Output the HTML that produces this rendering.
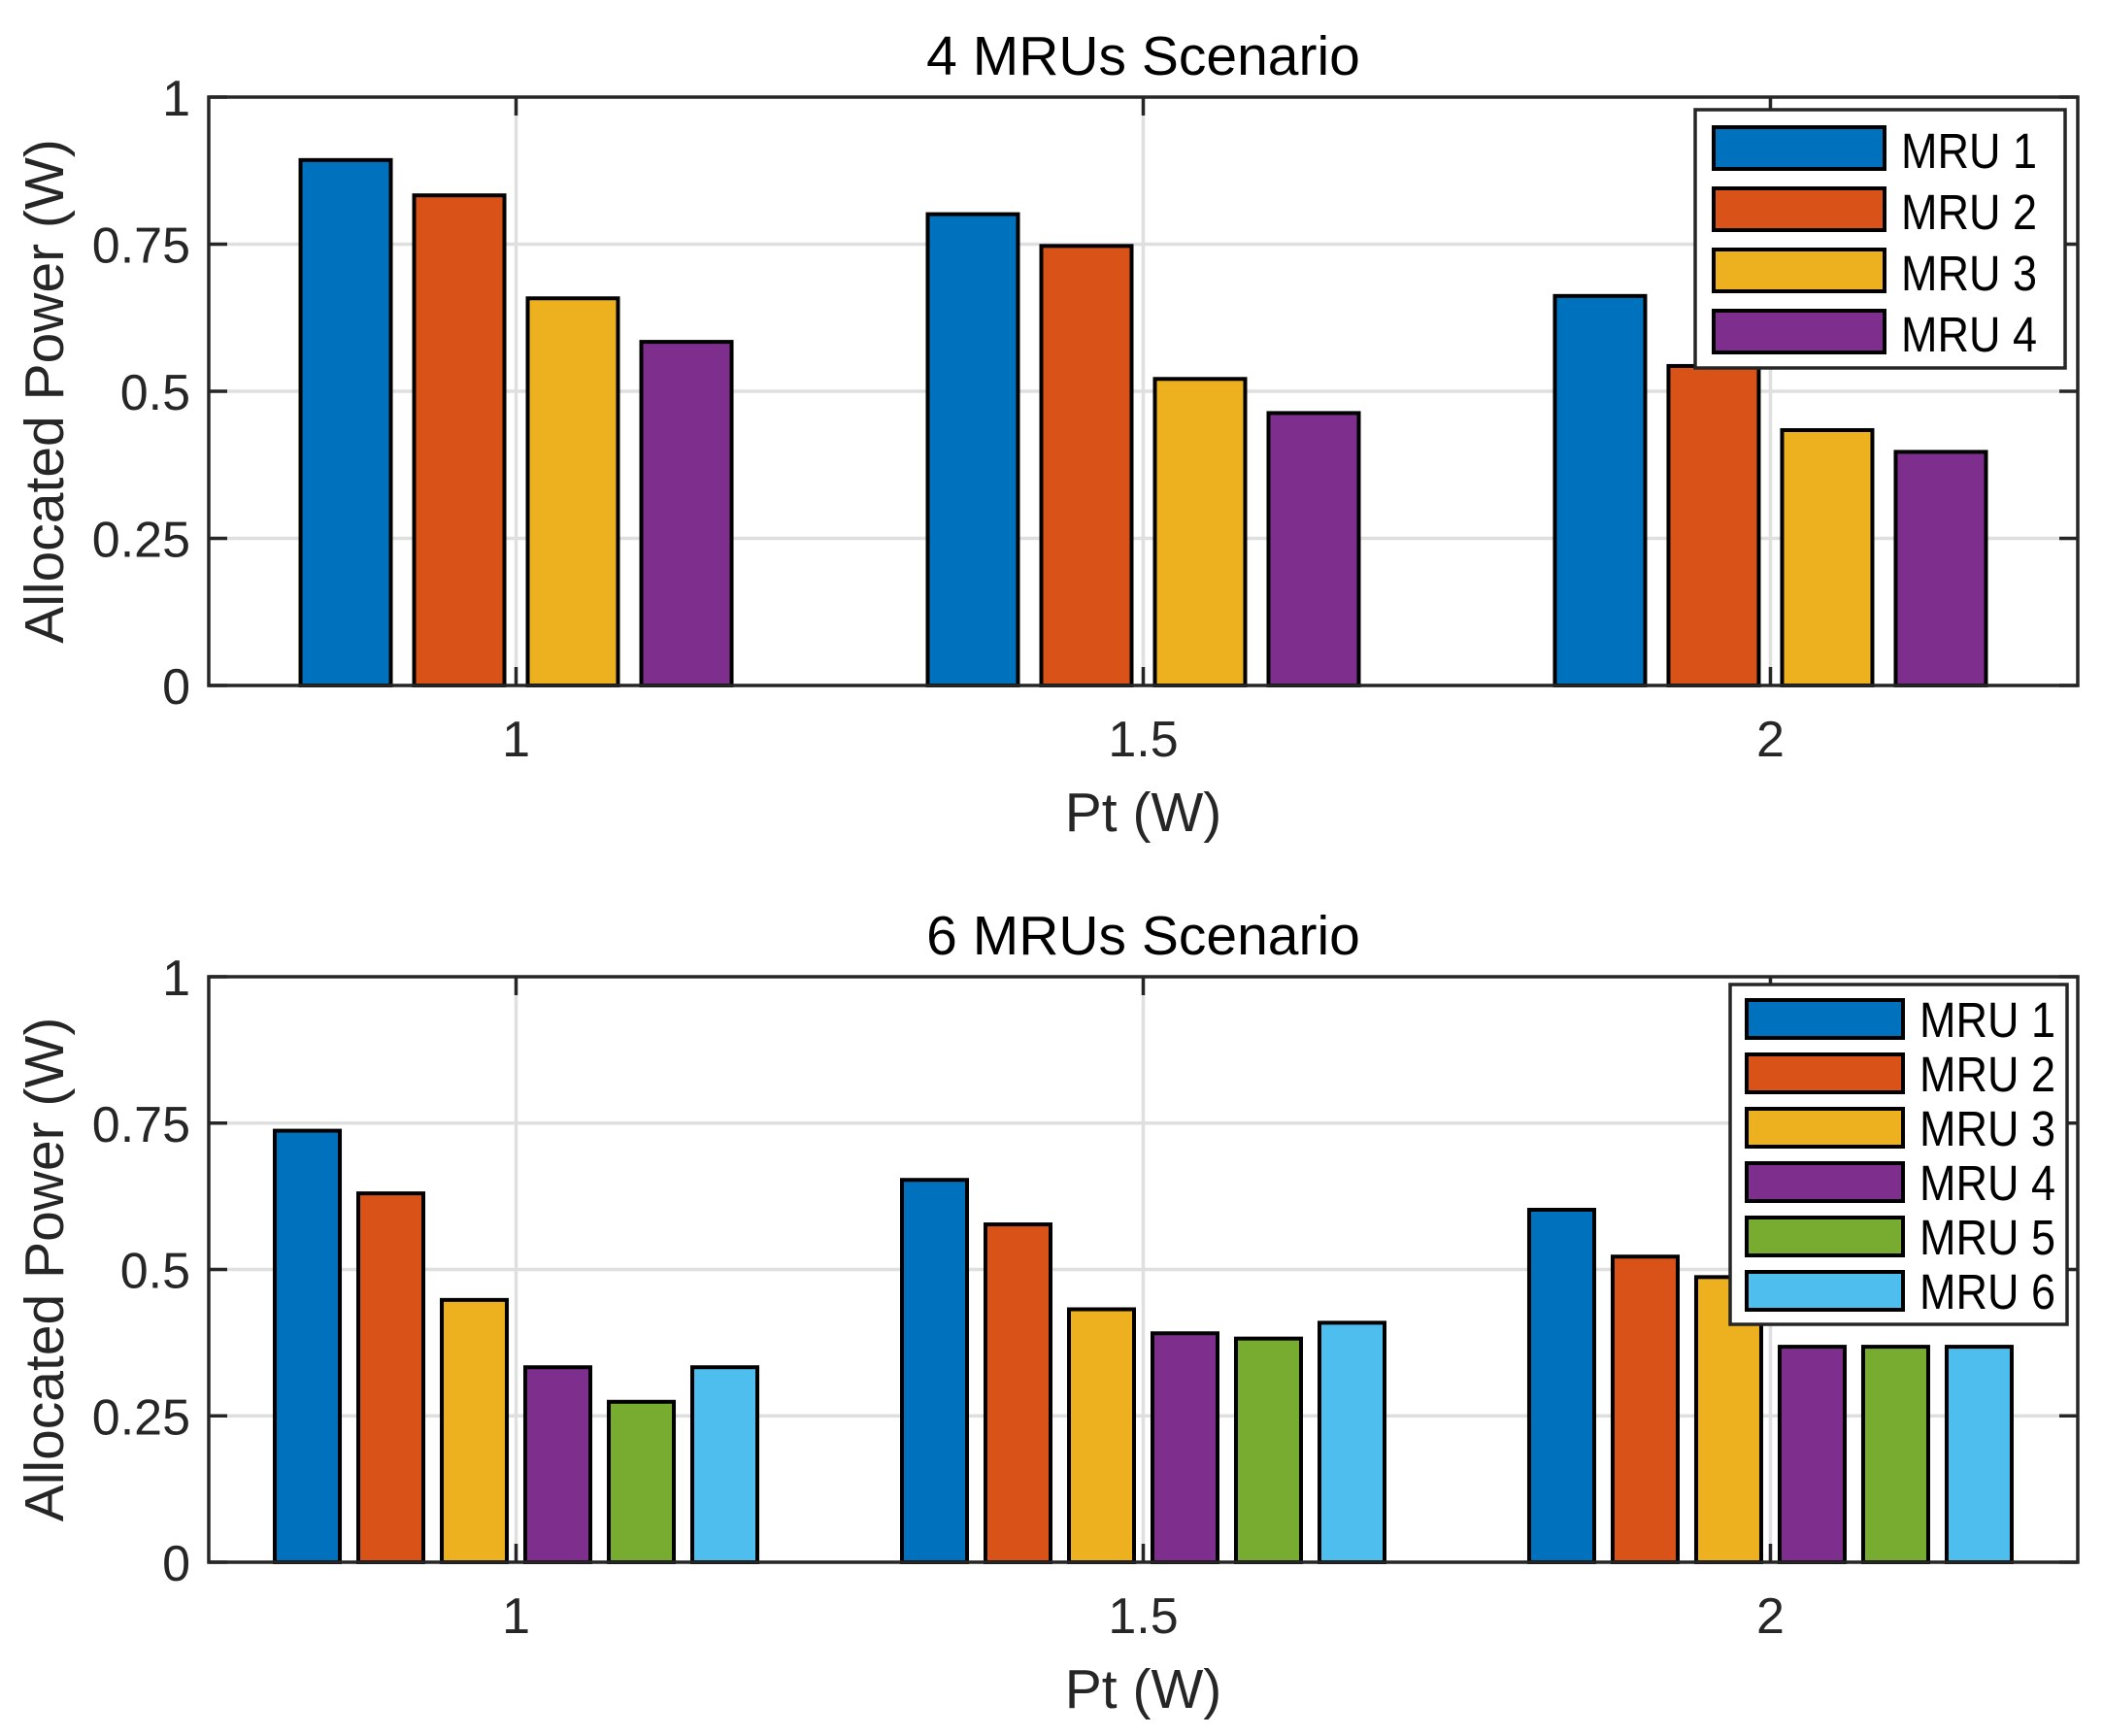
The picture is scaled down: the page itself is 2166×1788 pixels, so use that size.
<!DOCTYPE html>
<html><head><meta charset="utf-8">
<style>
html,body{margin:0;padding:0;background:#fff;}
svg{display:block;font-family:"Liberation Sans",Arial,sans-serif;}
</style></head>
<body>
<svg id="fig" width="2166" height="1788" viewBox="0 0 2166 1788" xmlns="http://www.w3.org/2000/svg"></svg>
<script>
const categories = [1, 1.5, 2];
const xTickLabels = ["1", "1.5", "2"];
const yTicks = [0, 0.25, 0.5, 0.75, 1];
const yTickLabels = ["0", "0.25", "0.5", "0.75", "1"];
const seriesNames4 = ["MRU 1", "MRU 2", "MRU 3", "MRU 4"];
const mru1Top = [0.893, 0.801, 0.662];
const mru2Top = [0.833, 0.747, 0.543];
const mru3Top = [0.658, 0.521, 0.434];
const mru4Top = [0.584, 0.463, 0.397];
const seriesNames6 = ["MRU 1", "MRU 2", "MRU 3", "MRU 4", "MRU 5", "MRU 6"];
const mru1Bot = [0.737, 0.653, 0.602];
const mru2Bot = [0.630, 0.577, 0.522];
const mru3Bot = [0.448, 0.432, 0.487];
const mru4Bot = [0.333, 0.391, 0.368];
const mru5Bot = [0.274, 0.382, 0.368];
const mru6Bot = [0.333, 0.409, 0.368];

const colors = ["#0072BD", "#D95319", "#EDB120", "#7E2F8E", "#77AC30", "#4DBEEE"];
const NS = "http://www.w3.org/2000/svg";
const svg = document.getElementById("fig");

function el(tag, attrs, parent) {
  const e = document.createElementNS(NS, tag);
  for (const k in attrs) e.setAttribute(k, attrs[k]);
  (parent || svg).appendChild(e);
  return e;
}

function drawPanel(cfg) {
  const g = el("g", {});
  
  
  const L = 215, R = 2140, T = cfg.top, B = cfg.bottom;
  const xmin = 0.755, xmax = 2.245;
  const xs = v => L + (v - xmin) / (xmax - xmin) * (R - L);
  const ys = v => B - v * (B - T);

  yTicks.forEach((t, i) => {
    if (t === 0 || t === 1) return;
    const gl = el("line", {x1: L, x2: R, y1: ys(t), y2: ys(t), stroke: "#dfdfdf", "stroke-width": 3.5}, g);
    
    
  });
  categories.forEach(c => {
    const gl = el("line", {x1: xs(c), x2: xs(c), y1: T, y2: B, stroke: "#dfdfdf", "stroke-width": 3.5}, g);
    
    
  });

  const n = cfg.series.length;
  const pitch = cfg.pitch, w = cfg.barWidth;
  cfg.series.forEach((vals, si) => {
    vals.forEach((v, ci) => {
      const cx = xs(categories[ci]) + (si - (n - 1) / 2) * pitch;
      const r = el("rect", {x: cx - w / 2, y: ys(v), width: w, height: ys(0) - ys(v),
        fill: colors[si], stroke: "#000", "stroke-width": 4}, g);
      
      
    });
  });

  const tl = 19;
  categories.forEach(c => {
    el("line", {x1: xs(c), x2: xs(c), y1: B, y2: B - tl, stroke: "#262626", "stroke-width": 3.5}, g);
    el("line", {x1: xs(c), x2: xs(c), y1: T, y2: T + tl, stroke: "#262626", "stroke-width": 3.5}, g);
  });
  yTicks.forEach(t => {
    el("line", {x1: L, x2: L + tl, y1: ys(t), y2: ys(t), stroke: "#262626", "stroke-width": 3.5}, g);
    el("line", {x1: R, x2: R - tl, y1: ys(t), y2: ys(t), stroke: "#262626", "stroke-width": 3.5}, g);
  });

  const box = el("rect", {x: L, y: T, width: R - L, height: B - T, fill: "none", stroke: "#262626", "stroke-width": 3.5}, g);
  
  

  categories.forEach((c, i) => {
    const t = el("text", {x: xs(c), y: B + 73, "font-size": 52, fill: "#262626", "text-anchor": "middle"}, g);
    t.textContent = xTickLabels[i];
    
    
  });
  yTicks.forEach((v, i) => {
    const t = el("text", {x: 196, y: ys(v) + 19, "font-size": 52, fill: "#262626", "text-anchor": "end"}, g);
    t.textContent = yTickLabels[i];
    
    
  });

  const ti = el("text", {x: (L + R) / 2, y: cfg.titleY, "font-size": 57, fill: "#000", "text-anchor": "middle"}, g);
  ti.textContent = cfg.title;
  
  
  const xl = el("text", {x: (L + R) / 2, y: B + 150, "font-size": 57, fill: "#262626", "text-anchor": "middle"}, g);
  xl.textContent = "Pt (W)";
  
  
  const ymid = (T + B) / 2;
  const yl = el("text", {x: 0, y: 0, "font-size": 57, fill: "#262626", "text-anchor": "middle",
    transform: "translate(65," + ymid + ") rotate(-90)"}, g);
  yl.textContent = "Allocated Power (W)";
  
  

  const lg = el("g", {}, g);
  
  
  const lb = cfg.legend;
  el("rect", {x: lb.x1, y: lb.y1, width: lb.x2 - lb.x1, height: lb.y2 - lb.y1, fill: "#fff", stroke: "#262626", "stroke-width": 3.5}, lg);
  cfg.names.forEach((nm, i) => {
    const ent = el("g", {}, lg);
    
    
    const y0 = lb.rowY + i * lb.pitch;
    el("rect", {x: lb.sx1 + 2, y: y0 + 2, width: lb.sx2 - lb.sx1 - 4, height: lb.sh - 4, fill: colors[i], stroke: "#000", "stroke-width": 4}, ent);
    const t = el("text", {x: lb.tx, y: y0 + lb.sh - 3, "font-size": 51, fill: "#000",
      textLength: lb.tw, lengthAdjust: "spacingAndGlyphs"}, ent);
    t.textContent = nm;
  });
}

drawPanel({
  name: "panel-4-mrus", top: 100, bottom: 706, title: "4 MRUs Scenario", titleY: 77,
  series: [mru1Top, mru2Top, mru3Top, mru4Top], names: seriesNames4,
  pitch: 117, barWidth: 93,
  legend: {x1: 1746, y1: 113, x2: 2127, y2: 379, sx1: 1763, sx2: 1943, rowY: 129, sh: 47, pitch: 63, tx: 1958, tw: 140}
});
drawPanel({
  name: "panel-6-mrus", top: 1006, bottom: 1609, title: "6 MRUs Scenario", titleY: 983,
  series: [mru1Bot, mru2Bot, mru3Bot, mru4Bot, mru5Bot, mru6Bot], names: seriesNames6,
  pitch: 86, barWidth: 67,
  legend: {x1: 1782, y1: 1014, x2: 2129, y2: 1364, sx1: 1797, sx2: 1962, rowY: 1028, sh: 43, pitch: 56, tx: 1977, tw: 140}
});
</script>
</body></html>
